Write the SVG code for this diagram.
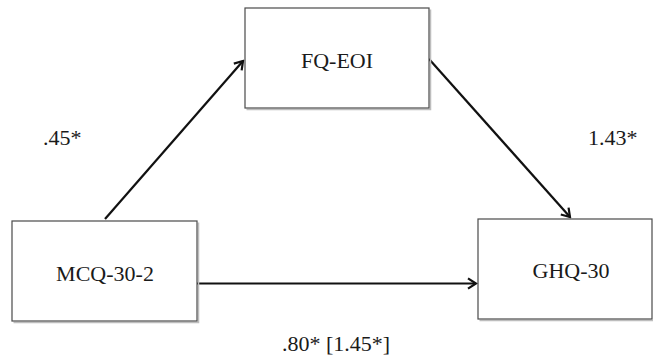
<svg xmlns="http://www.w3.org/2000/svg" width="654" height="359" viewBox="0 0 654 359">
<style>
.box{fill:#fff;stroke:#4a4a4a;stroke-width:1.2}
.shadow{fill:none;stroke:#bdbdbd;stroke-width:1.5}
.lbl{font-family:"Liberation Serif","Times New Roman",serif;font-size:22px;fill:#1a1a1a}
.edge{fill:none;stroke:#111;stroke-width:2.2}
</style>
<defs>
<marker id="arr" markerUnits="userSpaceOnUse" markerWidth="14" markerHeight="14" viewBox="0 0 14 14" refX="12" refY="7" orient="auto">
<path d="M4,1.8 L12,7 L4,12.2" fill="none" stroke="#111" stroke-width="2.2"/>
</marker>
</defs>
<rect width="654" height="359" fill="#fff"/>
<g id="connectors">
<line class="edge" x1="105" y1="219" x2="243" y2="61" marker-end="url(#arr)"/>
<line class="edge" x1="429" y1="59" x2="570" y2="217" marker-end="url(#arr)"/>
<line class="edge" x1="197" y1="283.5" x2="476" y2="283.5" marker-end="url(#arr)"/>
</g>
<g id="node-fqeoi">
<polyline class="shadow" points="246.5,109.5 430.5,109.5 430.5,9.5"/>
<rect class="box" x="245" y="8" width="184" height="100"/>
<text class="lbl" x="337" y="68" text-anchor="middle">FQ-EOI</text>
</g>
<g id="node-mcq">
<polyline class="shadow" points="13.5,322.5 198.5,322.5 198.5,222.5"/>
<rect class="box" x="12" y="221" width="185" height="100"/>
<text class="lbl" x="105" y="281" text-anchor="middle">MCQ-30-2</text>
</g>
<g id="node-ghq">
<polyline class="shadow" points="479.5,320.5 653,320.5"/>
<rect class="box" x="478" y="219" width="174" height="100"/>
<text class="lbl" x="571" y="278" text-anchor="middle">GHQ-30</text>
</g>
<g id="labels">
<text class="lbl" x="43" y="145">.45*</text>
<text class="lbl" x="588" y="145">1.43*</text>
<text class="lbl" x="282" y="351">.80* [1.45*]</text>
</g>
</svg>
